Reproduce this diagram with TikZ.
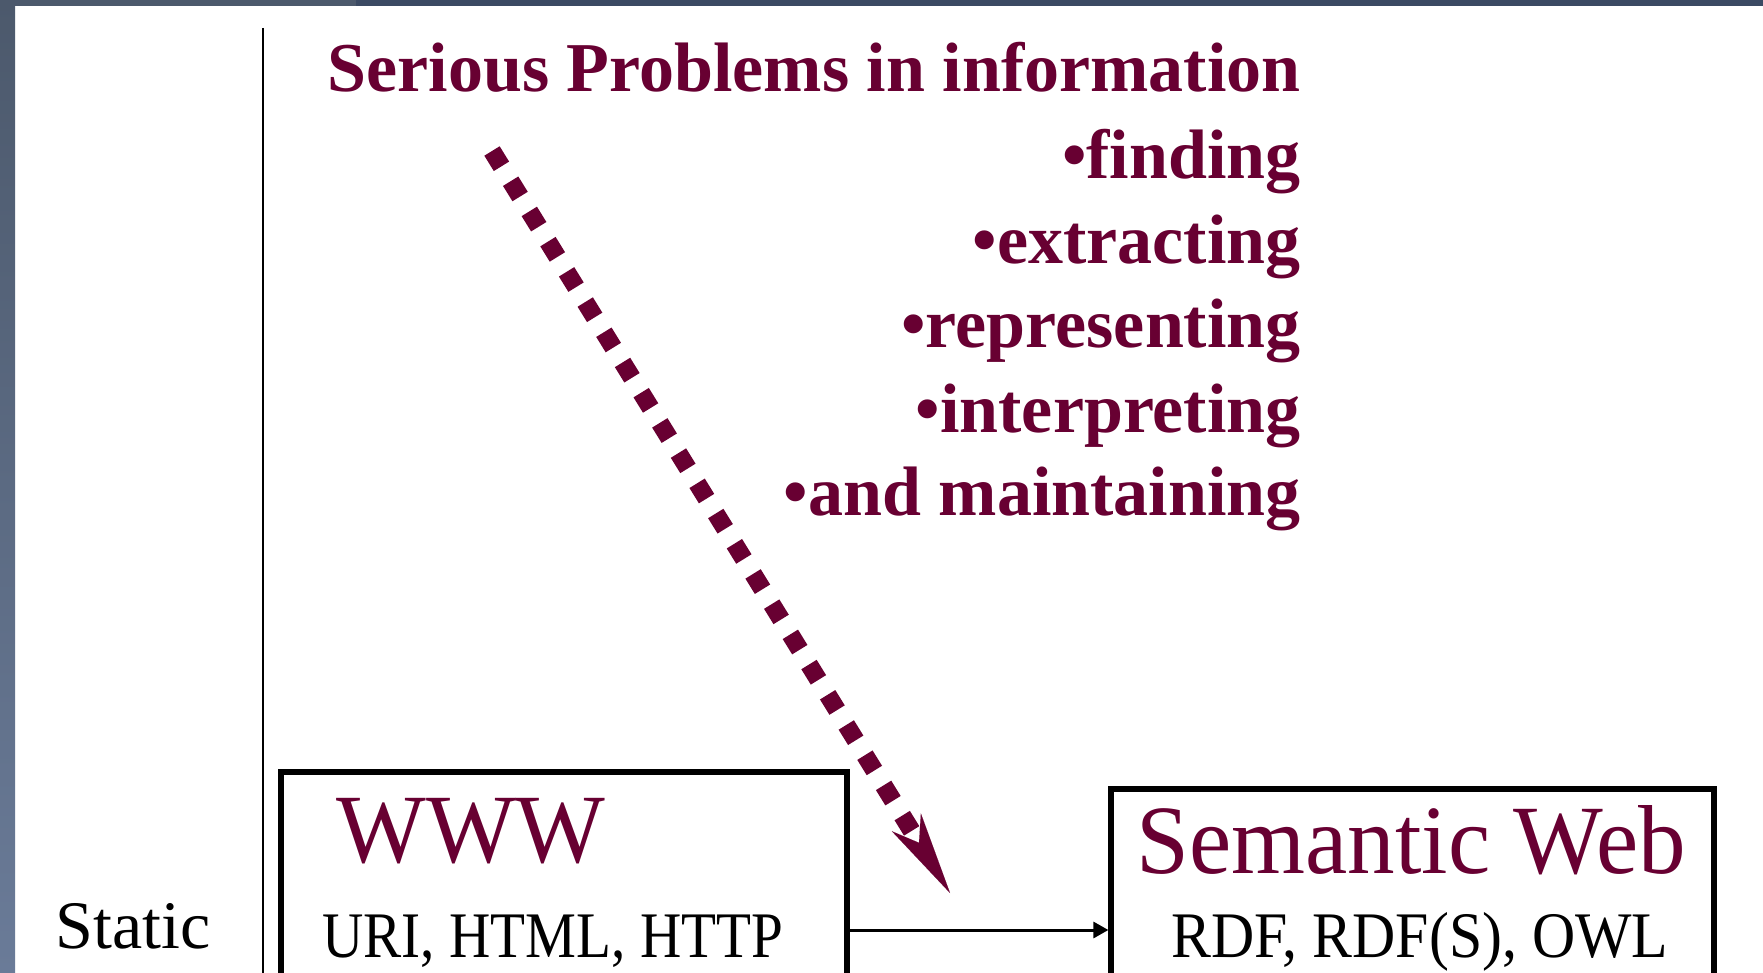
\documentclass[tikz,border=0pt]{standalone}
\usepackage{fontspec}
\setmainfont{Liberation Serif}
\newfontfamily\titleserif[FakeStretch=0.97]{Liberation Serif}
\newfontfamily\urlserif[FakeStretch=0.88]{Liberation Serif}
\newfontfamily\rdfserif[FakeStretch=0.92]{Liberation Serif}
\usetikzlibrary{arrows.meta}
\definecolor{maroon}{RGB}{104,0,50}
\definecolor{frametop}{RGB}{59,74,99}
\definecolor{frameleft}{RGB}{76,89,108}
\definecolor{frameleftlow}{RGB}{106,123,152}

\begin{document}
\begin{tikzpicture}[x=0.5pt,y=-0.5pt,
  probline/.style={anchor=base east, inner sep=0pt, text=maroon,
    font=\fontsize{35pt}{42pt}\selectfont\bfseries},
  boxtitle/.style={anchor=base west, inner sep=0pt, text=maroon,
    font=\titleserif\fontsize{49pt}{58pt}\selectfont},
  boxsub/.style={anchor=base west, inner sep=0pt},
  sidelabel/.style={anchor=base west, inner sep=0pt,
    font=\fontsize{34pt}{40pt}\selectfont},
  techbox/.style={draw, line width=2.6pt, inner sep=0pt, outer sep=0pt,
    anchor=north west},
  flow/.style={line width=1.5pt, -{Triangle[length=7.5pt,width=8pt]}},
  problemflow/.style={maroon, line width=9pt, dash pattern=on 9pt off 8.75pt,
    -{Stealth[length=41.5pt,width=17pt,inset=12pt,line width=0.01pt]}},
]
\useasboundingbox (0,0) rectangle (1763,973);
\clip (0,0) rectangle (1763,973);
\fill[white] (0,0) rectangle (1763,973);

% slide frame
\fill[frametop] (0,0) rectangle (1763,6);
\fill[frameleft] (0,0) rectangle (356,6);
\shade[top color=frameleft, bottom color=frameleftlow] (0,0) rectangle (15,973);

% separator between the row label and the content
\draw[line width=1.1pt] (263,28) -- (263,990);

% headline and list of problems
\node[probline] (title) at (1301,92) {Serious Problems in information};
\node[probline] (p1) at (1301,179) {•finding};
\node[probline] (p2) at (1301,264) {•extracting};
\node[probline] (p3) at (1301,348) {•representing};
\node[probline] (p4) at (1301,432) {•interpreting};
\node[probline] (p5) at (1301,516) {•and maintaining};

% technology boxes
\node[techbox, minimum width=283pt, minimum height=130pt] (www) at (281,772) {};
\node[techbox, minimum width=301.5pt, minimum height=130pt] (sw) at (1111,789) {};

\node[boxtitle] (wwwt) at (336,862) {WWW};
\node[boxsub, font=\urlserif\fontsize{32.5pt}{38pt}\selectfont] (uri) at (322,957) {URI, HTML, HTTP};
\node[boxtitle] (swt) at (1136,873) {Semantic Web};
\node[boxsub, font=\rdfserif\fontsize{32.5pt}{38pt}\selectfont] (rdf) at (1171,957) {RDF, RDF(S), OWL};

\node[sidelabel] (static) at (55,948) {Static};

% connectors
\draw[flow, shorten >=1.3pt] (www.east |- 0,930) -- (sw.west |- 0,930);

\coordinate (dstart) at (492,151);
\coordinate (dend) at (950,893);
\draw[problemflow] (dstart) -- (dend);
\end{tikzpicture}
\end{document}
